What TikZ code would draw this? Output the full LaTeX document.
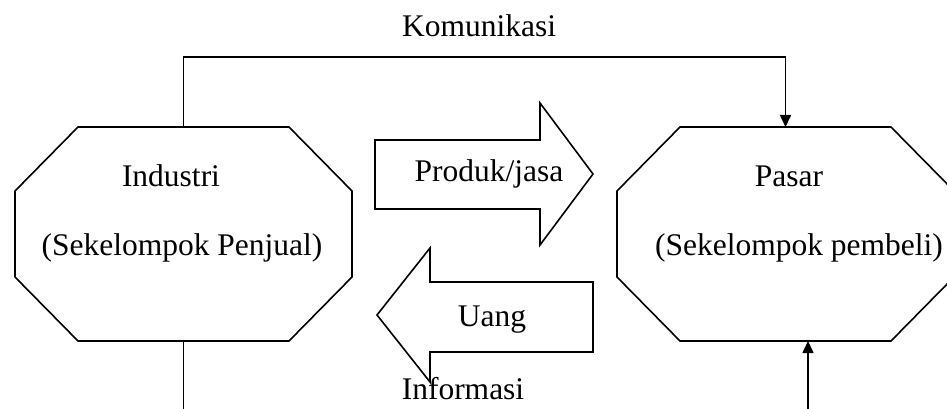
\documentclass[tikz,border=0pt]{standalone}
\usepackage{fontspec}
\setmainfont{Liberation Serif}
\usetikzlibrary{arrows.meta}
\begin{document}
\begin{tikzpicture}[x=1pt,y=-1pt,
  line width=1.6pt,
  octbox/.style={minimum width=337pt, minimum height=214pt, inner sep=0pt, outer sep=0pt},
  octline/.style={draw, line width=1.6pt, line join=miter},
  lbl/.style={font=\fontsize{31.5}{38}\selectfont, inner sep=0pt},
  blockarrow/.style={draw, line width=1.6pt, line join=miter},
  conn/.style={line width=1.6pt},
  tip/.style={-{Triangle[length=12pt,width=11pt]}}]
\useasboundingbox (0,0) rectangle (947,409);
\clip (0,0) rectangle (947,409);
% octagons
\node[octbox] (ind) at (183.5,234) {};
\node[octbox] (pas) at (785.5,234) {};
\foreach \o in {ind,pas}{
  \draw[octline] ([xshift=63pt]\o.north west) -- ([xshift=-63pt]\o.north east)
    -- ([yshift=-64pt]\o.north east) -- ([yshift=64pt]\o.south east)
    -- ([xshift=-63pt]\o.south east) -- ([xshift=63pt]\o.south west)
    -- ([yshift=64pt]\o.south west) -- ([yshift=-64pt]\o.north west) -- cycle;
}
\node[lbl] (tind) at (171,176) {Industri};
\node[lbl] (tind2) at (182,248) {(Sekelompok Penjual)};
\node[lbl] (tpas) at (789,176) {Pasar};
\node[lbl] (tpas2) at (799,248) {(Sekelompok pembeli)};
% block arrows
\draw[blockarrow] (375,140) -- (540,140) -- (540,103) -- (593,174) -- (540,245) -- (540,209) -- (375,209) -- cycle;
\node[lbl] (produk) at (489,174) {Produk/jasa};
\draw[blockarrow] (593,282) -- (430,282) -- (430,248) -- (377,315) -- (430,382) -- (430,352) -- (593,352) -- cycle;
\node[lbl] (uang) at (492,320) {Uang};
% labels
\node[lbl] (kom) at (479,26) {Komunikasi};
\node[lbl] (info) at (463,389) {Informasi};
% connectors
\coordinate (ktl) at (ind.north |- 0,57);
\coordinate (ktr) at (pas.north |- 0,57);
\draw[conn,tip] (ind.north) -- (ktl) -- (ktr) -- (pas.north);
\coordinate (ib) at (ind.south |- 0,412);
\draw[conn] (ind.south) -- (ib);
\coordinate (pbt) at (808,341);
\coordinate (pbb) at (808,412);
\draw[conn,tip] (pbb) -- (pbt);
\end{tikzpicture}
\end{document}
